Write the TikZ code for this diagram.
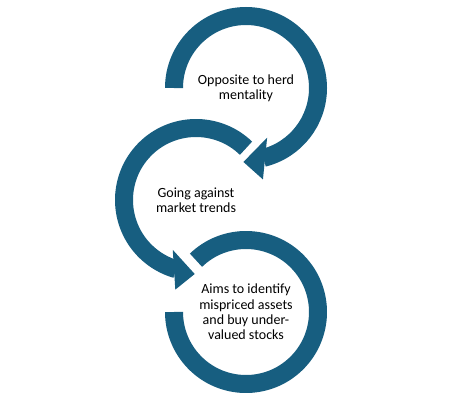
\documentclass[tikz,border=0pt]{standalone}
\usepackage{fontspec}
\setmainfont{Carlito}
\usepackage{tikz}
\usetikzlibrary{calc}

\definecolor{ringblue}{RGB}{23,94,128}

\begin{document}
\begin{tikzpicture}[x=1pt,y=1pt,
    band/.style={draw=ringblue,line width=18pt},
    tip/.style={fill=ringblue},
    label/.style={align=center,font=\fontsize{14}{15.3}\selectfont,text=black}]
                \useasboundingbox (0,0) rectangle (460,400);

                % Ring centres
                \coordinate (c1) at (246,312);
                \coordinate (c2) at (196,200);
                \coordinate (c3) at (246,88);

                % Top ring - clockwise, arrow into middle ring
                \draw[band] ($(c1)+(180:72pt)$) arc[start angle=180,end angle=-76,radius=72pt];
                \fill[tip] ($(c1)+(-67:54pt)$) -- ($(c1)+(-92:74pt)$) -- ($(c1)+(-79.5:93pt)$) -- cycle;

                % Middle ring - anticlockwise, arrow into bottom ring
                \draw[band] ($(c2)+(46:72pt)$) arc[start angle=46,end angle=254,radius=72pt];
                \fill[tip] ($(c2)+(-115:55pt)$) -- ($(c2)+(-91:74pt)$) -- ($(c2)+(-103:92pt)$) -- cycle;

                % Bottom ring - no arrow
                \draw[band] ($(c3)+(134:72pt)$) arc[start angle=134,end angle=-180,radius=72pt];

                % Labels
                \node[label] (t1) at (c1) {Opposite to herd\\mentality};
                \node[label] (t2) at (c2) {Going against\\market trends};
                \node[label] (t3) at (c3) {Aims to identify\\mispriced assets\\and buy under-\\valued stocks};

\end{tikzpicture}
\end{document}
